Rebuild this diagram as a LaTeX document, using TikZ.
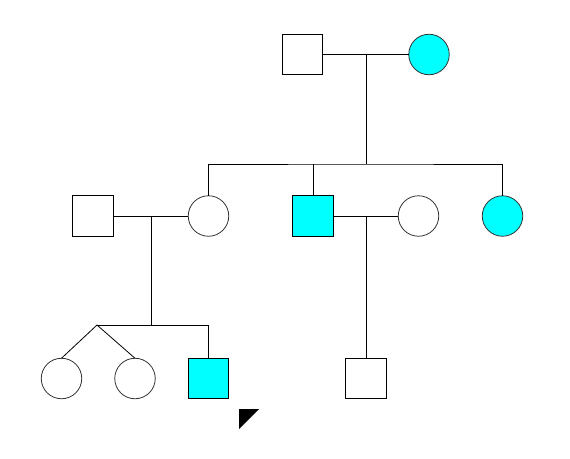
\documentclass[tikz,border=0pt]{standalone}
\definecolor{affcyan}{RGB}{0,255,255}
\begin{document}
\begin{tikzpicture}[x=1pt,y=-1pt,
  male/.style={draw=black,rectangle,minimum size=40.5pt,inner sep=0pt,outer sep=0pt,line width=0.8pt},
  female/.style={draw=black!80,circle,minimum size=40.5pt,inner sep=0pt,outer sep=0pt,line width=0.8pt},
  aff/.style={fill=affcyan},
  link/.style={line width=0.8pt}]
\useasboundingbox (0,0) rectangle (570,458);
% generation 1
\node[male] (gf) at (302.5,54.5) {};
\node[female,aff] (gm) at (429,54.5) {};
% generation 2
\node[male] (f1) at (93,216) {};
\node[female] (m1) at (208.5,216) {};
\node[male,aff] (s2) at (313,216) {};
\node[female] (w2) at (418.5,216) {};
\node[female,aff] (d3) at (502.5,216) {};
% generation 3
\node[female] (t1) at (61.5,378.5) {};
\node[female] (t2) at (135,378.5) {};
\node[male,aff] (c3) at (208.5,378.5) {};
\node[male] (c4) at (366,378.5) {};
% coordinates
\coordinate (mg1) at (366,54.5);
\coordinate (sg1) at (366,164);
\coordinate (mg2a) at (151,216);
\coordinate (sg2a) at (151,325);
\coordinate (tw) at (97,325);
\coordinate (mg2b) at (366,216);
% marriages
\draw[link] (gf.east) -- (gm.west);
\draw[link] (f1.east) -- (m1.west);
\draw[link] (s2.east) -- (w2.west);
% descent gen1
\draw[link] (mg1) -- (sg1);
\draw[link] (m1.north) |- (sg1) -| (d3.north);
\draw[link] (s2.north) -- (s2.north |- sg1);
% descent gen2a
\draw[link] (mg2a) -- (sg2a);
\draw[link] (tw) -| (c3.north);
\draw[link] (tw) -- (t1.north);
\draw[link] (tw) -- (t2.north);
% descent gen2b
\draw[link] (mg2b) -- (c4.north);
% proband arrow
\coordinate (pr) at (239,409);
\fill (pr) -- ++(20,0) -- ++(-20,20) -- cycle;
\end{tikzpicture}
\end{document}
